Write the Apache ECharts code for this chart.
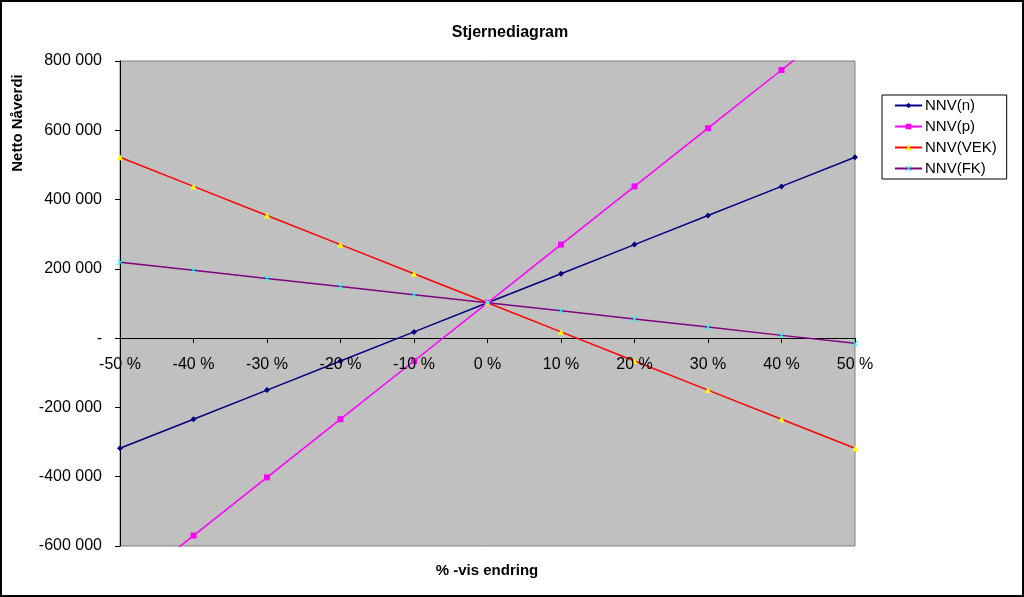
<!DOCTYPE html>
<html>
<head>
<meta charset="utf-8">
<script src="https://cdn.jsdelivr.net/npm/echarts@6/dist/echarts.min.js"></script>
<style>
html,body{margin:0;padding:0;background:#fff;}
#chart{width:1024px;height:597px;}
</style>
</head>
<body>
<div id="chart"></div>
<script>
const xValues = [-50, -40, -30, -20, -10, 0, 10, 20, 30, 40, 50];
const xTickLabels = ['-50 %', '-40 %', '-30 %', '-20 %', '-10 %', '0 %', '10 %', '20 %', '30 %', '40 %', '50 %'];
const nnvN   = [-318000, -234000, -150000, -66000, 18000, 102000, 186000, 270000, 354000, 438000, 522000];
const nnvP   = [-738000, -570000, -402000, -234000, -66000, 102000, 270000, 438000, 606000, 774000, 942000];
const nnvVEK = [522000, 438000, 354000, 270000, 186000, 102000, 18000, -66000, -150000, -234000, -318000];
const nnvFK  = [219000, 196000, 172000, 149000, 125000, 102000, 79000, 55000, 32000, 8000, -15000];

const pair = arr => xValues.map((x, i) => [x, arr[i]]);
const fmtY = v => v === 0 ? '-' : (v < 0 ? '-' : '') + String(Math.abs(v)).replace(/\B(?=(\d{3})+(?!\d))/g, ' ');
const FONT = 'Liberation Sans, Arial, sans-serif';
const xShape = 'path://M0,1L1,0L5,4L9,0L10,1L6,5L10,9L9,10L5,6L1,10L0,9L4,5Z';

const chart = echarts.init(document.getElementById('chart'), null, {renderer: 'canvas'});
const baseGraphic = [
  {type: 'text', x: 18, y: 123, rotation: Math.PI / 2,
   style: {text: 'Netto Nåverdi', font: 'bold 15px ' + FONT, fill: '#000', textAlign: 'center', textVerticalAlign: 'middle'}},
  {type: 'text', x: 487, y: 571,
   style: {text: '% -vis endring', font: 'bold 15px ' + FONT, fill: '#000', textAlign: 'center', textVerticalAlign: 'middle'}},
  {type: 'rect', shape: {x: 1, y: 1, width: 1022, height: 595},
   style: {fill: 'none', stroke: '#000', lineWidth: 2}, silent: true, z: 100}
];
chart.setOption({
  animation: false,
  backgroundColor: '#fff',
  textStyle: {fontFamily: FONT},
  title: {
    text: 'Stjernediagram', left: 505, top: 20, textAlign: 'center',
    textStyle: {fontSize: 16, fontWeight: 'bold', color: '#000', fontFamily: FONT}
  },
  legend: {
    orient: 'vertical', left: 882, top: 95,
    backgroundColor: '#fff', borderColor: '#000', borderWidth: 1,
    padding: [3, 10, 3, 12], itemWidth: 27, itemHeight: 7, itemGap: 6,
    textStyle: {fontSize: 15, color: '#000', fontFamily: FONT, padding: [0, 0, 0, -2]},
    data: ['NNV(n)', 'NNV(p)', 'NNV(VEK)', 'NNV(FK)']
  },
  grid: {
    left: 120, right: 169, top: 61, bottom: 51,
    show: true, backgroundColor: '#C0C0C0', borderColor: '#808080', borderWidth: 1
  },
  xAxis: {
    type: 'value', min: -50, max: 50, interval: 10,
    axisLine: {onZero: true, lineStyle: {color: '#000', width: 1}},
    axisTick: {show: true, inside: false, length: 5, lineStyle: {color: '#000'}},
    axisLabel: {show: false},
    splitLine: {show: false}
  },
  yAxis: {
    type: 'value', min: -600000, max: 800000, interval: 200000,
    axisLine: {show: true, onZero: false, lineStyle: {color: '#000', width: 1}},
    axisTick: {show: true, length: 5, lineStyle: {color: '#000'}},
    axisLabel: {fontSize: 16, color: '#000', margin: 18, formatter: fmtY, fontFamily: FONT},
    splitLine: {show: false}
  },
  graphic: baseGraphic,
  series: [
    {name: 'NNV(n)', type: 'line', data: pair(nnvN), symbol: 'diamond', symbolSize: 6,
     lineStyle: {color: '#000080', width: 1.5}, itemStyle: {color: '#000080'}},
    {name: 'NNV(p)', type: 'line', data: pair(nnvP), symbol: 'rect', symbolSize: 6,
     lineStyle: {color: '#FF00FF', width: 1.5}, itemStyle: {color: '#FF00FF'}},
    {name: 'NNV(VEK)', type: 'line', data: pair(nnvVEK), symbol: 'triangle', symbolSize: 6,
     lineStyle: {color: '#FF0000', width: 1.5}, itemStyle: {color: '#FFFF00'}},
    {name: 'NNV(FK)', type: 'line', data: pair(nnvFK), symbol: xShape, symbolSize: 6,
     lineStyle: {color: '#800080', width: 1.5}, itemStyle: {color: '#00FFFF'}}
  ]
});

// x-axis tick labels placed just below the zero line, using the chart's own scale
const labelTexts = xValues.map((x, i) => {
  const p = chart.convertToPixel({gridIndex: 0}, [x, 0]);
  return {type: 'text', x: p[0], y: p[1] + 26, z: 50,
    style: {text: xTickLabels[i], font: '16px ' + FONT, fill: '#000', textAlign: 'center', textVerticalAlign: 'middle'}};
});
chart.setOption({graphic: baseGraphic.concat(labelTexts)}, {replaceMerge: ['graphic']});
</script>
</body>
</html>
